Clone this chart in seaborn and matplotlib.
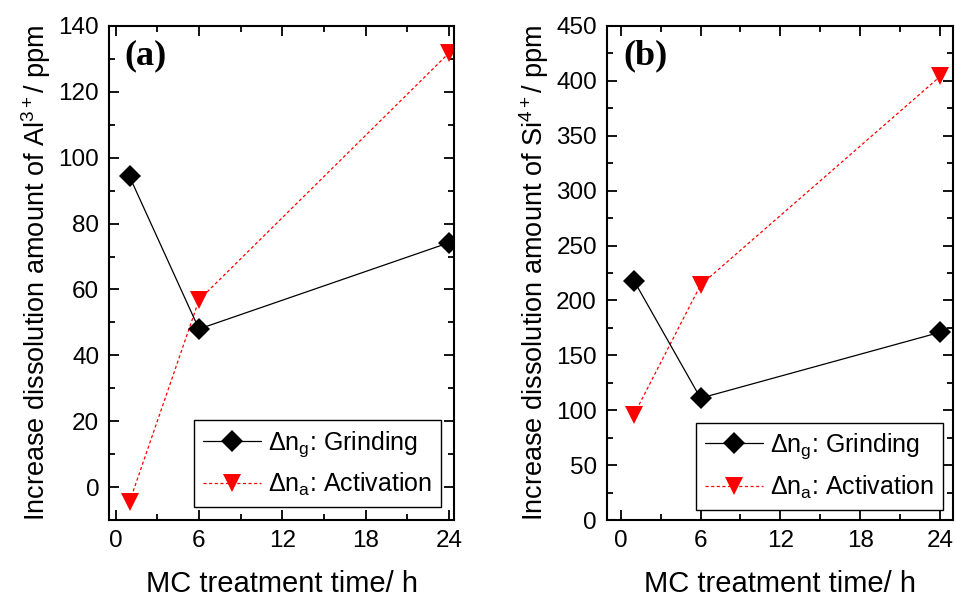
import matplotlib
matplotlib.use("Agg")
import matplotlib.pyplot as plt
import seaborn as sns
import pandas as pd
from matplotlib.ticker import MultipleLocator

# ---- data ----
time_h = [1, 6, 24]
al_grinding = [94.3, 48.0, 74.2]
al_activation = [-4.5, 56.8, 131.8]
si_grinding = [218, 111, 171]
si_activation = [96, 214, 404]

label_g = r"$\Delta$n$_{\mathregular{g}}$: Grinding"
label_a = r"$\Delta$n$_{\mathregular{a}}$: Activation"
x_label = "MC treatment time/ h"
y_label_a = r"Increase dissolution amount of Al$^{3+}$/ ppm"
y_label_b = r"Increase dissolution amount of Si$^{4+}$/ ppm"
x_ticks = [0, 6, 12, 18, 24]

sns.set_style("ticks")
plt.rcParams["font.family"] = ["Liberation Sans", "DejaVu Sans"]
plt.rcParams["mathtext.fontset"] = "custom"
plt.rcParams["mathtext.rm"] = "Liberation Sans"
plt.rcParams["mathtext.it"] = "Liberation Sans:italic"
plt.rcParams["mathtext.bf"] = "Liberation Sans:bold"
for k in ["text.color", "axes.labelcolor", "xtick.color", "ytick.color",
          "axes.edgecolor"]:
    plt.rcParams[k] = "black"

fig = plt.figure(figsize=(9.55, 6.0), dpi=100)
ax_a = fig.add_axes([0.1141, 0.1333, 0.3616, 0.8234])
ax_b = fig.add_axes([0.6353, 0.1333, 0.3623, 0.8234])


def draw(ax, g, a, ylabel, ylim, ymajor, yminor, xlim, panel, leg_anchor, panel_xy):
    df_g = pd.DataFrame({"t": time_h, "v": g})
    df_a = pd.DataFrame({"t": time_h, "v": a})
    sns.lineplot(data=df_g, x="t", y="v", ax=ax, color="black", lw=0.9,
                 marker="D", markersize=11, markeredgewidth=0,
                 label=label_g, zorder=3)
    sns.lineplot(data=df_a, x="t", y="v", ax=ax, color="red", lw=0.9,
                 linestyle=(0, (2.5, 2.0)),
                 marker="v", markersize=13.5, markeredgewidth=0,
                 label=label_a, zorder=2)
    ax.set_xlim(*xlim)
    ax.set_ylim(*ylim)
    ax.set_xticks(x_ticks)
    ax.xaxis.set_minor_locator(MultipleLocator(3))
    ax.yaxis.set_major_locator(MultipleLocator(ymajor))
    ax.yaxis.set_minor_locator(MultipleLocator(yminor))
    ax.tick_params(which="both", direction="in", top=True, right=True,
                   width=1.3, labelsize=17.5, pad=7)
    ax.tick_params(which="major", length=7)
    ax.tick_params(which="minor", length=4)
    for s in ax.spines.values():
        s.set_linewidth(1.5)
        s.set_color("black")
    ax.set_xlabel(x_label, fontsize=21, labelpad=13)
    ax.set_ylabel(ylabel, fontsize=19.5, labelpad=4)
    leg = ax.legend(loc="lower right", bbox_to_anchor=leg_anchor,
                    fontsize=18, frameon=True, fancybox=False,
                    edgecolor="black", handlelength=2.3, handletextpad=0.3,
                    borderpad=0.35, labelspacing=0.5, borderaxespad=0)
    leg.get_frame().set_linewidth(1.0)
    leg.get_frame().set_alpha(1)
    ax.text(panel_xy[0], panel_xy[1], panel, transform=ax.transAxes,
            fontsize=26, fontweight="bold", family="Liberation Serif",
            ha="center", va="center")


draw(ax_a, al_grinding, al_activation, y_label_a, (-10, 140), 20, 10,
     (-0.48, 24.38), "(a)", (0.9615, 0.026), (0.107, 0.94))
draw(ax_b, si_grinding, si_activation, y_label_b, (0, 450), 50, 25,
     (-1.05, 24.95), "(b)", (0.972, 0.021), (0.113, 0.94))

fig.savefig("out.png", dpi=100)
